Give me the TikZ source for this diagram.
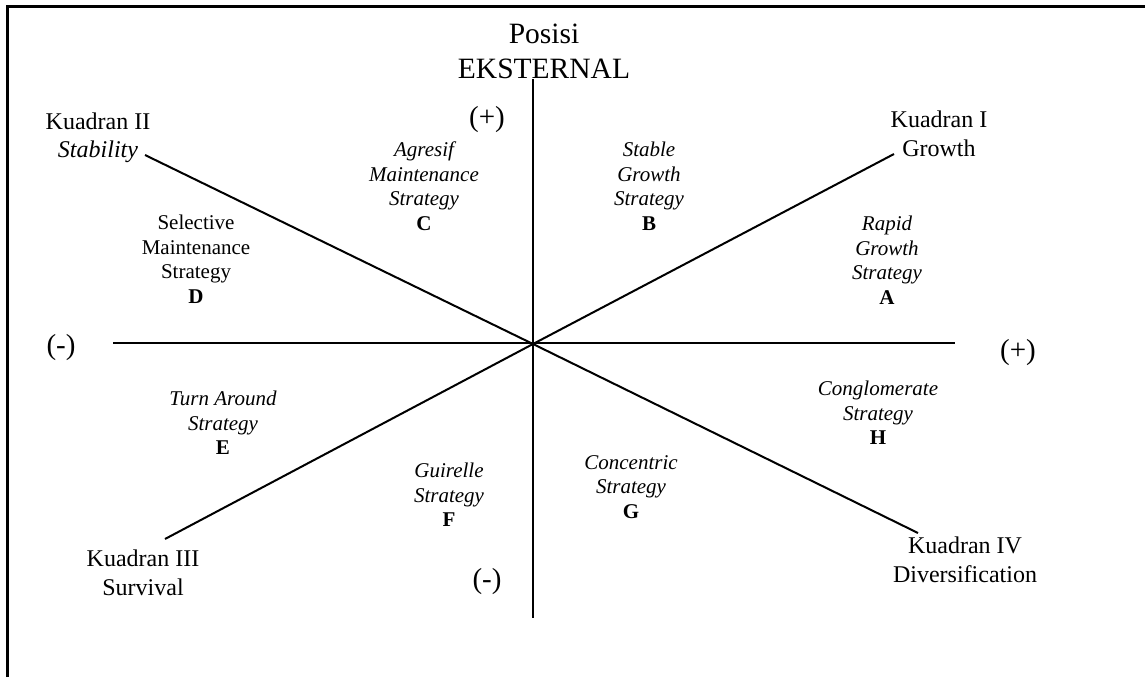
\documentclass[tikz,border=0pt]{standalone}
\usepackage{fontspec}
\setmainfont{Liberation Serif}

\begin{document}
\begin{tikzpicture}[x=1pt, y=-1pt,
    kuadran/.style={font=\fontsize{24}{28.5}\selectfont, align=center, inner sep=0pt},
    strat/.style={font=\fontsize{21}{24.5}\selectfont\itshape, align=center, inner sep=0pt},
    sign/.style={font=\fontsize{29}{32}\selectfont, inner sep=0pt}]

    \useasboundingbox (0,0) rectangle (1145,677);
    \path[draw, line width=2.6pt] (7.5,677) -- (7.5,6.5) -- (1145,6.5);

    \coordinate (o) at (533,344);
    \coordinate (top) at (533,79);
    \coordinate (bot) at (533,618);
    \coordinate (lft) at (113,343);
    \coordinate (rgt) at (955,343);
    \coordinate (ne) at (894,154);
    \coordinate (nw) at (145,155);
    \coordinate (sw) at (165,539);
    \coordinate (se) at (918,533);

    \path[draw, line width=2pt] (top) -- (bot);
    \path[draw, line width=2pt] (lft) -- (rgt);
    \path[draw, line width=2pt] (nw) -- (o) -- (se);
    \path[draw, line width=2pt] (sw) -- (o) -- (ne);

    \node[font=\fontsize{29.5}{35}\selectfont, align=center, inner sep=0pt] (posisi) at (544,51) {Posisi\\EKSTERNAL};

    \node[sign] (ptop) at (487,120) {(+)};
    \node[sign] (mbot) at (487,582) {(-)};
    \node[sign] (mlft) at (61,348) {(-)};
    \node[sign] (prgt) at (1018,353) {(+)};

    \node[kuadran] (k1) at (939,134) {Kuadran I\\Growth};
    \node[kuadran] (k2) at (98,138) {Kuadran II\\\textit{Stability}};
    \node[kuadran] (k3) at (143,573) {Kuadran III\\Survival};
    \node[kuadran] (k4) at (965,560) {Kuadran IV\\Diversification};

    % strategi per segmen
    \node[strat] (sa) at (887,260) {Rapid\\Growth\\Strategy\\\normalfont\bfseries A};
    \node[strat] (sb) at (649,186) {Stable\\Growth\\Strategy\\\normalfont\bfseries B};
    \node[strat] (sc) at (424,186) {Agresif\\Maintenance\\Strategy\\\normalfont\bfseries C};
    \node[strat, font=\fontsize{21}{24.5}\selectfont] (sd) at (196,259) {Selective\\Maintenance\\Strategy\\\bfseries D};
    \node[strat] (se) at (223,423) {Turn Around\\Strategy\\\normalfont\bfseries E};
    \node[strat] (sf) at (449,495) {Guirelle\\Strategy\\\normalfont\bfseries F};
    \node[strat] (sg) at (631,487) {Concentric\\Strategy\\\normalfont\bfseries G};
    \node[strat] (sh) at (878,413) {Conglomerate\\Strategy\\\normalfont\bfseries H};

\end{tikzpicture}
\end{document}
